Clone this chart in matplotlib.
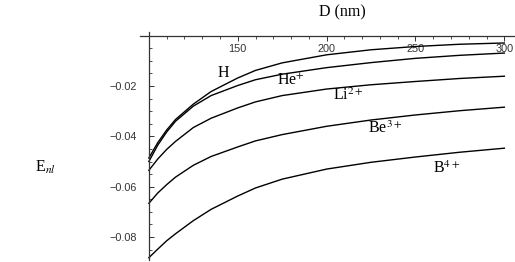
import matplotlib
matplotlib.use("Agg")
import matplotlib.pyplot as plt
from matplotlib.ticker import FixedLocator, MultipleLocator, FuncFormatter

plt.rcParams['mathtext.fontset'] = 'stix'

# D (nm) sample points
D = [100, 105, 110, 115, 125, 135, 150, 160, 175, 200, 225, 250, 275, 300]

# energies E_nl for each ion
e_H = [-0.0486, -0.0425, -0.0375, -0.0333, -0.0272, -0.0222, -0.0168, -0.0138, -0.0108,
       -0.0076, -0.0056, -0.0043, -0.0034, -0.0029]
e_He = [-0.0500, -0.0435, -0.0383, -0.0340, -0.0280, -0.0238, -0.0198, -0.0175, -0.0153,
        -0.0127, -0.0107, -0.0090, -0.0078, -0.0069]
e_Li = [-0.0535, -0.0490, -0.0452, -0.0420, -0.0365, -0.0328, -0.0287, -0.0263, -0.0238,
        -0.0212, -0.0195, -0.0182, -0.0170, -0.0161]
e_Be = [-0.0666, -0.0625, -0.0592, -0.0562, -0.0515, -0.0480, -0.0442, -0.0418, -0.0393,
        -0.0360, -0.0335, -0.0315, -0.0298, -0.0284]
e_B = [-0.0882, -0.0848, -0.0815, -0.0787, -0.0735, -0.0690, -0.0637, -0.0605, -0.0570,
       -0.0530, -0.0503, -0.0482, -0.0463, -0.0447]

curves = [e_H, e_He, e_Li, e_Be, e_B]
names = ['H', 'He$^{+}$', 'Li$^{2+}$', 'Be$^{3+}$', 'B$^{4+}$']
# where each name sits (left edge, baseline)
name_x = [138.9, 172.1, 203.6, 223.3, 259.9]
name_y = [-0.0164, -0.0196, -0.0256, -0.0387, -0.0546]

fig = plt.figure(figsize=(5.15, 2.62), dpi=100)
ax = fig.add_axes([0.2718, 0.0088, 0.7282, 0.8675])

for e in curves:
    ax.plot(D, e, color='black', lw=1.0)

for n, x, y in zip(names, name_x, name_y):
    ax.text(x, y, n, family='Liberation Serif', fontsize=11.5, ha='left', va='baseline')

ax.set_xlim(95, 306)
ax.set_ylim(-0.089, 0.0013)

# Mathematica style axes crossing at (100, 0)
ax.spines['right'].set_visible(False)
ax.spines['bottom'].set_visible(False)
ax.spines['left'].set_position(('data', 100))
ax.spines['top'].set_position(('data', 0))
for s in ['left', 'top']:
    ax.spines[s].set_color('#333333')
    ax.spines[s].set_linewidth(0.9)

ax.xaxis.tick_top()
ax.xaxis.set_major_locator(FixedLocator([150, 200, 250, 300]))
ax.xaxis.set_minor_locator(MultipleLocator(10))
ax.yaxis.set_major_locator(FixedLocator([-0.08, -0.06, -0.04, -0.02]))
ax.yaxis.set_minor_locator(MultipleLocator(0.005))
ax.yaxis.set_major_formatter(FuncFormatter(lambda v, p: ('%.2f' % v).replace('-', '\u2212')))

ax.tick_params(axis='x', which='major', direction='in', length=3.5, width=0.7,
               colors='#333333', labelsize=7.8, pad=-13.5)
ax.tick_params(axis='y', which='major', direction='in', length=3.5, width=0.7,
               colors='#333333', labelsize=7.8, pad=8.5)
ax.tick_params(which='minor', direction='in', length=2, width=0.6, colors='#333333')
for lab in ax.get_xticklabels() + ax.get_yticklabels():
    lab.set_family('Liberation Sans')

fig.text(342 / 515, 1 - 16 / 262, 'D (nm)', family='Liberation Serif', fontsize=11.5,
         ha='center', va='baseline')
fig.text(35 / 515, 1 - 172 / 262, 'E$_{nl}$', family='Liberation Serif', fontsize=11.5,
         ha='left', va='baseline')

fig.savefig('out.png', dpi=100)
